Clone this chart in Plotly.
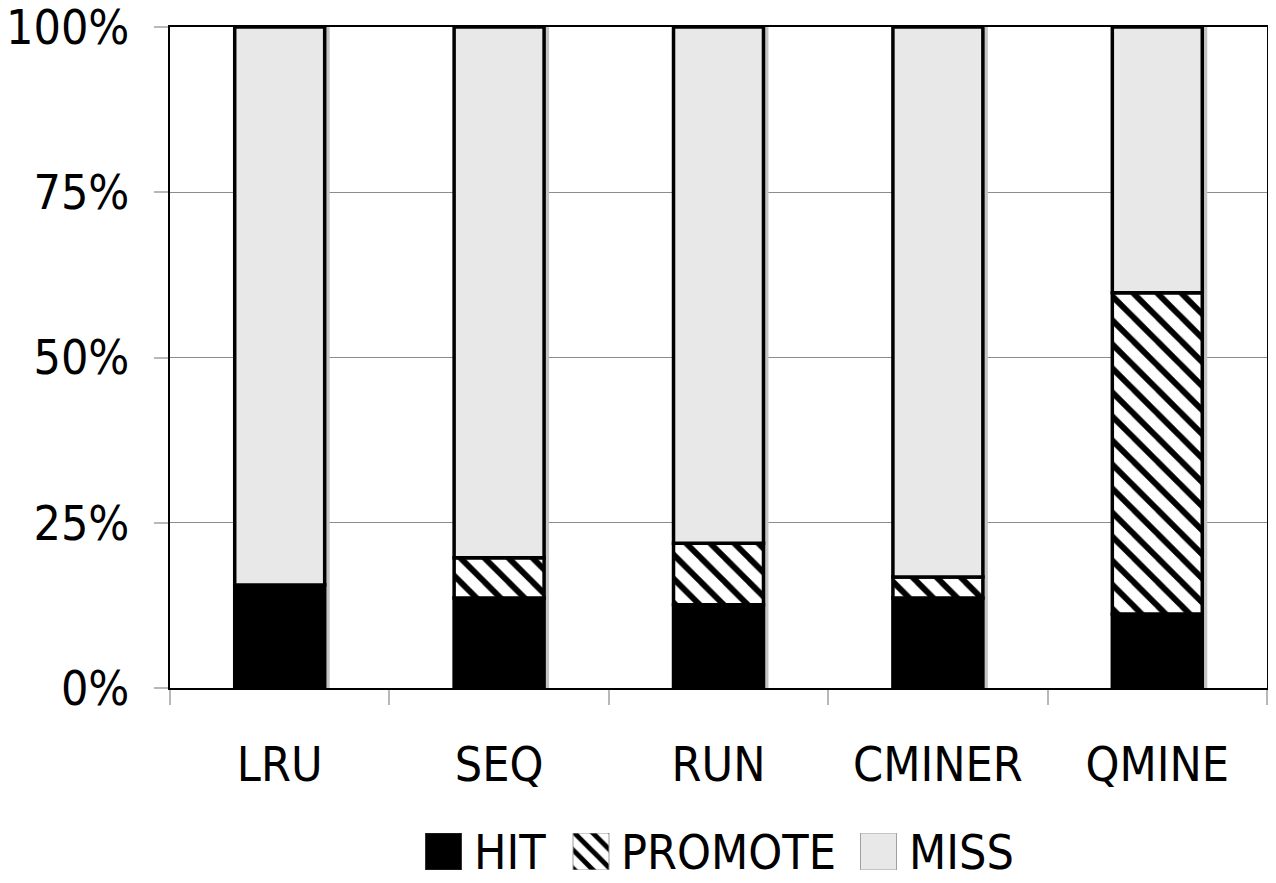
import plotly.graph_objects as go

categories = ["LRU", "SEQ", "RUN", "CMINER", "QMINE"]
hit = [15.6, 13.6, 12.6, 13.6, 11.2]
promote = [0.0, 6.1, 9.3, 3.2, 48.6]
miss = [100 - h - p for h, p in zip(hit, promote)]
tick_vals = [0, 25, 50, 75, 100]
tick_text = ["0%", "25%", "50%", "75%", "100%"]
legend_names = ["HIT", "PROMOTE", "MISS"]

FONT = "DejaVu Sans Condensed"
BW = 0.41
OFF = 8  # page body margin
W, H = 1276 - OFF, 883 - OFF
ML, MT = 170 - OFF, 27 - OFF
MR = W - (1267 - OFF)
MB = 2
plot_h = H - MT - MB

def py_to_paper(py_screen):
    return (H - MB - (py_screen - OFF)) / plot_h

fig = go.Figure()

# shadow behind bars
fig.add_trace(go.Bar(
    x=categories, y=[100] * len(categories), base=[0] * len(categories),
    width=BW, offset=-BW / 2 + 5 / 219.4,
    marker=dict(color="#c4c4c4", line=dict(width=0)),
    showlegend=False, hoverinfo="skip"))

base_p = hit
base_m = [h + p for h, p in zip(hit, promote)]

fig.add_trace(go.Bar(
    x=categories, y=hit, base=[0] * len(categories), name="HIT",
    width=BW, marker=dict(color="black", line=dict(color="black", width=3.5)),
    showlegend=False))
fig.add_trace(go.Bar(
    x=categories, y=promote, base=base_p, name="PROMOTE",
    width=BW, marker=dict(color="white", line=dict(color="black", width=3.5),
                          pattern=dict(shape="\\", fgcolor="black", bgcolor="white",
                                       fgopacity=1, size=17, solidity=0.35)),
    showlegend=False))
fig.add_trace(go.Bar(
    x=categories, y=miss, base=base_m, name="MISS",
    width=BW, marker=dict(color="#e8e8e8", line=dict(color="black", width=3.5)),
    showlegend=False))

# custom legend keys (own axes, screen-pixel x units)
key_centers = [443.5, 591.0, 878.5]
key_styles = [
    dict(color="black", line=dict(color="#333333", width=1)),
    dict(color="white", line=dict(color="#999999", width=1),
         pattern=dict(shape="\\", fgcolor="black", bgcolor="white", fgopacity=1,
                      size=13, solidity=0.38)),
    dict(color="#e8e8e8", line=dict(color="#a0a0a0", width=1)),
]
for name, cx, st in zip(legend_names, key_centers, key_styles):
    fig.add_trace(go.Bar(
        x=[cx], y=[1], width=36, marker=st, xaxis="x2", yaxis="y2",
        showlegend=False, hoverinfo="skip"))
    fig.add_annotation(
        x=cx + 28, y=0.5, xref="x2", yref="y2", text=name, showarrow=False,
        xanchor="left", yanchor="middle",
        font=dict(family=FONT, size=48, color="black"))

fig.update_layout(
    width=W, height=H,
    margin=dict(l=ML, r=MR, t=MT, b=MB, autoexpand=False),
    barmode="overlay",
    plot_bgcolor="white", paper_bgcolor="white",
    font=dict(family=FONT, size=48, color="black"),
    showlegend=False,
    xaxis=dict(
        type="category", domain=[0, 1], automargin=False,
        showgrid=False, showline=True, linecolor="black", linewidth=2, mirror=True,
        ticks="outside", tickson="boundaries", ticklen=15, tickwidth=2, tickcolor="#b8b8b8",
        ticklabelstandoff=33,
        tickfont=dict(family=FONT, size=48, color="black")),
    yaxis=dict(
        range=[0, 100], domain=[py_to_paper(688), 1], automargin=False,
        tickvals=tick_vals, ticktext=tick_text, ticklabeloverflow="allow",
        showgrid=True, gridcolor="#8c8c8c", gridwidth=1,
        showline=True, linecolor="black", linewidth=2, mirror=True,
        ticks="outside", ticklen=14, tickwidth=2, tickcolor="#b8b8b8",
        ticklabelstandoff=15, zeroline=False,
        tickfont=dict(family=FONT, size=48, color="black")),
    xaxis2=dict(domain=[0, 1], range=[170, 1267], visible=False, anchor="y2"),
    yaxis2=dict(domain=[py_to_paper(870), py_to_paper(833)], range=[0, 1],
                visible=False, anchor="x2"),
)

fig.write_html("out.html")
